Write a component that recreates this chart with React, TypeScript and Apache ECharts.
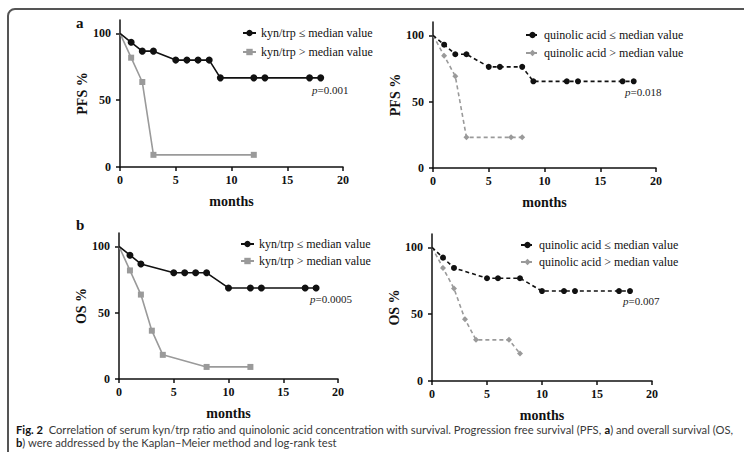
import React, { useEffect, useRef } from "react";
import * as echarts from "echarts";

// ---- data ----
const xTickValues = [0, 5, 10, 15, 20];
const yTickValues = [0, 50, 100];

const kynLowName = "kyn/trp \u2264 median value";
const kynHighName = "kyn/trp > median value";
const quinLowName = "quinolic acid \u2264 median value";
const quinHighName = "quinolic acid > median value";

// PFS, kyn/trp
const kynLowPfsMonths = [0, 1, 2, 3, 5, 6, 7, 8, 9, 12, 13, 17, 18];
const kynLowPfs = [100, 93.3, 86.7, 86.7, 80, 80, 80, 80, 66.7, 66.7, 66.7, 66.7, 66.7];
const kynHighPfsMonths = [0, 1, 2, 3, 12];
const kynHighPfs = [100, 81.8, 63.6, 9.1, 9.1];

// PFS, quinolic acid
const quinLowPfsMonths = [0, 1, 2, 3, 5, 6, 8, 9, 12, 13, 17, 18];
const quinLowPfs = [100, 92.9, 85.7, 85.7, 76.2, 76.2, 76.2, 65.3, 65.3, 65.3, 65.3, 65.3];
const quinHighPfsMonths = [0, 1, 2, 3, 7, 8];
const quinHighPfs = [100, 84.6, 69.2, 23.1, 23.1, 23.1];

// OS, kyn/trp
const kynLowOsMonths = [0, 1, 2, 5, 6, 7, 8, 10, 12, 13, 17, 18];
const kynLowOs = [100, 93.3, 86.7, 80, 80, 80, 80, 68.6, 68.6, 68.6, 68.6, 68.6];
const kynHighOsMonths = [0, 1, 2, 3, 4, 8, 12];
const kynHighOs = [100, 81.8, 63.6, 36.4, 18.2, 9.1, 9.1];

// OS, quinolic acid
const quinLowOsMonths = [0, 1, 2, 5, 6, 8, 10, 12, 13, 17, 18];
const quinLowOs = [100, 92.3, 84.6, 76.9, 76.9, 76.9, 67.3, 67.3, 67.3, 67.3, 67.3];
const quinHighOsMonths = [0, 1, 2, 3, 4, 7, 8];
const quinHighOs = [100, 84.6, 69.2, 46.2, 30.8, 30.8, 20.5];

const pValues = ["0.001", "0.018", "0.0005", "0.007"];
const yNames = ["PFS %", "PFS %", "OS %", "OS %"];

const SERIF = "'Liberation Serif', 'Times New Roman', serif";
const BLACK = "#111";
const GRAY = "#9a9a9a";

function pts(months: number[], vals: number[]) {
  return months.map((m, i) =>
    i === 0 ? { value: [m, vals[i]], symbol: "none" } : [m, vals[i]]
  );
}

function mkSeries(
  name: string,
  months: number[],
  vals: number[],
  idx: number,
  color: string,
  dashed: boolean,
  symbol: string,
  size: number
) {
  return {
    type: "line",
    name,
    xAxisIndex: idx,
    yAxisIndex: idx,
    data: pts(months, vals),
    symbol,
    symbolSize: size,
    showSymbol: true,
    lineStyle: { color, width: 1.6, type: dashed ? [4, 3] : "solid" },
    itemStyle: { color, borderWidth: 0 },
    emphasis: { disabled: true },
    z: color === BLACK ? 3 : 2,
  };
}

export default function App() {
  const ref = useRef<HTMLDivElement>(null);
  useEffect(() => {
    if (!ref.current) return;
    const chart = echarts.init(ref.current, undefined, { renderer: "svg" });

    const grids = [
      { left: 120, top: 20, width: 223, height: 147 },
      { left: 433, top: 22, width: 223, height: 146 },
      { left: 119, top: 233, width: 219, height: 146 },
      { left: 432, top: 234, width: 220, height: 147 },
    ];

    const xAxes = grids.map((_, i) => ({
      type: "value",
      gridIndex: i,
      min: xTickValues[0],
      max: xTickValues[xTickValues.length - 1],
      interval: 5,
      name: "months",
      nameLocation: "middle",
      nameGap: 27,
      nameTextStyle: { fontFamily: SERIF, fontWeight: "bold", fontSize: 14, color: BLACK },
      axisLine: { show: true, onZero: false, lineStyle: { color: BLACK, width: 1.5 } },
      axisTick: { show: true, inside: false, length: 4, lineStyle: { color: BLACK, width: 1.5 } },
      axisLabel: { fontFamily: SERIF, fontWeight: "bold", fontSize: 12, color: BLACK, margin: 7 },
      splitLine: { show: false },
    }));

    const yAxes = grids.map((_, i) => ({
      type: "value",
      gridIndex: i,
      min: 0,
      max: 110,
      name: yNames[i],
      nameLocation: "middle",
      nameGap: 31,
      nameRotate: 90,
      nameTextStyle: { fontFamily: SERIF, fontWeight: "bold", fontSize: 14, color: BLACK },
      axisLine: { show: true, onZero: false, lineStyle: { color: BLACK, width: 1.5 } },
      axisTick: {
        show: true,
        inside: false,
        length: 4,
        customValues: yTickValues,
        lineStyle: { color: BLACK, width: 1.5 },
      },
      axisLabel: {
        fontFamily: SERIF,
        fontWeight: "bold",
        fontSize: 12,
        color: BLACK,
        margin: 9,
        customValues: yTickValues,
      },
      splitLine: { show: false },
    }));

    const series = [
      mkSeries(kynLowName, kynLowPfsMonths, kynLowPfs, 0, BLACK, false, "circle", 7),
      mkSeries(kynHighName, kynHighPfsMonths, kynHighPfs, 0, GRAY, false, "rect", 6),
      mkSeries(quinLowName, quinLowPfsMonths, quinLowPfs, 1, BLACK, true, "circle", 6),
      mkSeries(quinHighName, quinHighPfsMonths, quinHighPfs, 1, GRAY, true, "diamond", 6),
      mkSeries(kynLowName, kynLowOsMonths, kynLowOs, 2, BLACK, false, "circle", 7),
      mkSeries(kynHighName, kynHighOsMonths, kynHighOs, 2, GRAY, false, "rect", 6),
      mkSeries(quinLowName, quinLowOsMonths, quinLowOs, 3, BLACK, true, "circle", 6),
      mkSeries(quinHighName, quinHighOsMonths, quinHighOs, 3, GRAY, true, "diamond", 6),
    ];

    const legendBase = {
      orient: "vertical",
      itemWidth: 13,
      itemHeight: 8,
      selectedMode: false,
      textStyle: { fontFamily: SERIF, fontSize: 12, color: BLACK, lineHeight: 14 },
      padding: 0,
    };
    const legends = [
      { ...legendBase, left: 242, top: 26, itemGap: 5, data: [kynLowName, kynHighName] },
      { ...legendBase, left: 525, top: 28, itemGap: 4, data: [quinLowName, quinHighName] },
      { ...legendBase, left: 240, top: 237, itemGap: 3, data: [kynLowName, kynHighName] },
      { ...legendBase, left: 520, top: 238, itemGap: 3, data: [quinLowName, quinHighName] },
    ];

    const pPos = [
      [312, 90],
      [625, 92],
      [310, 299],
      [623, 301],
    ];

    const graphic: any[] = [
      {
        type: "rect",
        silent: true,
        shape: { x: 8, y: 9, width: 800, height: 500, r: 7 },
        style: { fill: "none", stroke: "#555", lineWidth: 2 },
      },
      {
        type: "text",
        left: 76,
        top: 15,
        style: { text: "a", font: `bold 15px ${SERIF}`, fill: BLACK },
      },
      {
        type: "text",
        left: 76,
        top: 217,
        style: { text: "b", font: `bold 15px ${SERIF}`, fill: BLACK },
      },
      ...pValues.map((p, i) => ({
        type: "text",
        x: pPos[i][0],
        y: pPos[i][1],
        style: {
          text: `{i|p}{n|=${p}}`,
          verticalAlign: "middle",
          rich: {
            i: { fontFamily: SERIF, fontStyle: "italic", fontSize: 11, fill: "#222" },
            n: { fontFamily: SERIF, fontSize: 11, fill: "#222" },
          },
        },
      })),
      {
        type: "text",
        x: 16,
        y: 423,
        style: {
          text:
            "{b|Fig. 2}  Correlation of serum kyn/trp ratio and quinolonic acid concentration with survival. Progression free survival (PFS, {b|a}) and overall survival (OS,\n{b|b}) were addressed by the Kaplan\u2013Meier method and log-rank test",
          fontFamily: "Lato, sans-serif",
          fontSize: 11.2,
          lineHeight: 13,
          fill: "#3a3a3a",
          rich: {
            b: { fontFamily: "Lato, sans-serif", fontSize: 11.2, fontWeight: "bold", fill: "#111", lineHeight: 13 },
          },
        },
      },
    ];

    chart.setOption({
      animation: false,
      backgroundColor: "#fff",
      grid: grids,
      xAxis: xAxes,
      yAxis: yAxes,
      legend: legends,
      series,
      graphic,
    });
    return () => chart.dispose();
  }, []);

  return (
    <div
      ref={ref}
      style={{ position: "fixed", left: 0, top: 0, width: 744, height: 452 }}
    />
  );
}
